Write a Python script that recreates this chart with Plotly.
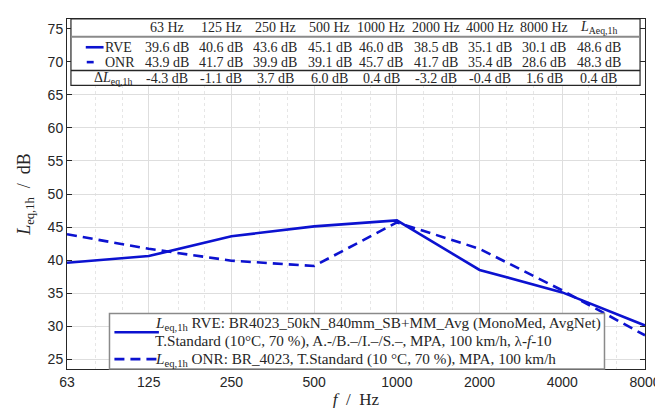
import plotly.graph_objects as go
import math

freqs = [63, 125, 250, 500, 1000, 2000, 4000, 8000]
freq_labels = ["63", "125", "250", "500", "1000", "2000", "4000", "8000"]
rve = [39.6, 40.6, 43.6, 45.1, 46.0, 38.5, 35.1, 30.1]
onr = [43.9, 41.7, 39.9, 39.1, 45.7, 41.7, 35.4, 28.6]
third_oct = [80, 100, 160, 200, 315, 400, 630, 800, 1250, 1600, 2500, 3150, 5000, 6300]
y_ticks = [25, 30, 35, 40, 45, 50, 55, 60, 65, 70, 75]

table_header = ["63 Hz", "125 Hz", "250 Hz", "500 Hz", "1000 Hz", "2000 Hz", "4000 Hz", "8000 Hz",
                "<i>L</i><sub>Aeq,1h</sub>"]
table_rve = ["39.6 dB", "40.6 dB", "43.6 dB", "45.1 dB", "46.0 dB", "38.5 dB", "35.1 dB", "30.1 dB", "48.6 dB"]
table_onr = ["43.9 dB", "41.7 dB", "39.9 dB", "39.1 dB", "45.7 dB", "41.7 dB", "35.4 dB", "28.6 dB", "48.3 dB"]
table_delta = ["-4.3 dB", "-1.1 dB", "3.7 dB", "6.0 dB", "0.4 dB", "-3.2 dB", "-0.4 dB", "1.6 dB", "0.4 dB"]

legend_rve_1 = "<i>L</i><sub>eq,1h</sub> RVE: BR4023_50kN_840mm_SB+MM_Avg (MonoMed, AvgNet)"
legend_rve_2 = "T.Standard (10°C, 70 %), A.-/B.–/I.–/S.–, MPA, 100 km/h, λ-<i>f</i>-10"
legend_onr = "<i>L</i><sub>eq,1h</sub> ONR: BR_4023, T.Standard (10 °C, 70 %), MPA, 100 km/h"

BLUE = "#0c12d0"
SERIF = "Liberation Serif"
TXT = "#262626"
W, H = 663, 408
ML, MR, MT, MB = 59, 19, 10, 45
PW, PH = W - ML - MR, H - MT - MB


def px(x):
    return (x - ML) / PW


def py(y):
    return (MT + PH - y) / PH


fig = go.Figure()
fig.add_trace(go.Scatter(x=freqs, y=rve, mode="lines", line=dict(color=BLUE, width=2.6),
                         showlegend=False))
fig.add_trace(go.Scatter(x=freqs, y=onr, mode="lines", line=dict(color=BLUE, width=2.6, dash="10px,6px"),
                         showlegend=False))

shapes = []
annotations = []

# Table box
tx0, tx1, ty0, ty1 = 63, 639, 10, 77
shapes.append(dict(type="rect", xref="paper", yref="paper", x0=px(tx0), x1=px(tx1), y0=py(ty1), y1=py(ty0),
                   fillcolor="white", line=dict(color=TXT, width=1.2), layer="above"))
shapes.append(dict(type="line", xref="paper", yref="paper", x0=px(tx0), x1=px(tx1), y0=py(28), y1=py(28),
                   line=dict(color="#8a8a8a", width=2), layer="above"))
shapes.append(dict(type="line", xref="paper", yref="paper", x0=px(tx0), x1=px(tx1), y0=py(62), y1=py(62),
                   line=dict(color=TXT, width=1.5), layer="above"))

TFS = 14
col_x = [160, 215, 270, 325, 377, 432, 487, 542, 597]
row_y = [19, 38.5, 53.5, 70]
for ci, cx in enumerate(col_x):
    for ri, row in enumerate([table_header, table_rve, table_onr, table_delta]):
        annotations.append(dict(xref="paper", yref="paper", x=px(cx), y=py(row_y[ri]), text=row[ci],
                                showarrow=False, xanchor="center", yanchor="middle", borderpad=0,
                                font=dict(family=SERIF, size=TFS, color=TXT)))

# Table row labels
shapes.append(dict(type="line", xref="paper", yref="paper", x0=px(78), x1=px(96), y0=py(38.5), y1=py(38.5),
                   line=dict(color=BLUE, width=2.6), layer="above"))
shapes.append(dict(type="line", xref="paper", yref="paper", x0=px(79), x1=px(86), y0=py(53.5), y1=py(53.5),
                   line=dict(color=BLUE, width=2.6), layer="above"))
annotations.append(dict(xref="paper", yref="paper", x=px(111), y=py(38.5), text="RVE", showarrow=False,
                        xanchor="center", yanchor="middle", borderpad=0,
                        font=dict(family=SERIF, size=TFS, color=TXT)))
annotations.append(dict(xref="paper", yref="paper", x=px(113), y=py(53.5), text="ONR", showarrow=False,
                        xanchor="center", yanchor="middle", borderpad=0,
                        font=dict(family=SERIF, size=TFS, color=TXT)))
annotations.append(dict(xref="paper", yref="paper", x=px(106), y=py(70), text="Δ<i>L</i><sub>eq,1h</sub>",
                        showarrow=False, xanchor="center", yanchor="middle", borderpad=0,
                        font=dict(family=SERIF, size=TFS, color=TXT)))

# Legend box
lx0, lx1, ly0, ly1 = 102, 603, 307, 363
shapes.append(dict(type="rect", xref="paper", yref="paper", x0=px(lx0), x1=px(lx1), y0=py(ly1), y1=py(ly0),
                   fillcolor="white", line=dict(color="#8a8a8a", width=1.5), layer="above"))
shapes.append(dict(type="line", xref="paper", yref="paper", x0=px(107), x1=px(152), y0=py(326), y1=py(326),
                   line=dict(color=BLUE, width=2.6), layer="above"))
shapes.append(dict(type="line", xref="paper", yref="paper", x0=px(107), x1=px(152), y0=py(353), y1=py(353),
                   line=dict(color=BLUE, width=2.6, dash="10px,6px"), layer="above"))
for text, yy in [(legend_rve_1, 317), (legend_rve_2, 335), (legend_onr, 353)]:
    annotations.append(dict(xref="paper", yref="paper", x=px(376), y=py(yy), text=text, showarrow=False,
                            xanchor="center", yanchor="middle", width=450, align="left", borderpad=0,
                            font=dict(family=SERIF, size=15.2, color=TXT)))

fig.update_layout(
    width=W, height=H,
    margin=dict(l=ML, r=MR, t=MT, b=MB),
    paper_bgcolor="white", plot_bgcolor="white",
    shapes=shapes, annotations=annotations,
    xaxis=dict(type="log", range=[math.log10(63), math.log10(8000)],
               tickvals=freqs, ticktext=freq_labels,
               tickfont=dict(family="Liberation Sans", size=14, color=TXT),
               ticks="inside", ticklen=5, tickcolor=TXT,
               showline=True, mirror="ticks", linecolor=TXT, linewidth=1,
               showgrid=True, gridcolor="#dedede", gridwidth=1,
               minor=dict(tickvals=third_oct, showgrid=True, gridcolor="#e6e6e6", griddash="dot", ticks=""),
               zeroline=False,
               title=dict(text="<i>f</i>  /  Hz", font=dict(family=SERIF, size=17, color=TXT),
                          standoff=4)),
    yaxis=dict(range=[23.5, 76.5], tickvals=y_ticks,
               tickfont=dict(family="Liberation Sans", size=14, color=TXT),
               ticks="inside", ticklen=5, tickcolor=TXT,
               showline=True, mirror="ticks", linecolor=TXT, linewidth=1,
               showgrid=True, gridcolor="#dedede", gridwidth=1, zeroline=False,
               title=dict(text="<i>L</i><sub>eq,1h</sub>  /  dB",
                          font=dict(family=SERIF, size=18, color=TXT), standoff=12)),
)

fig.write_html("out.html")
